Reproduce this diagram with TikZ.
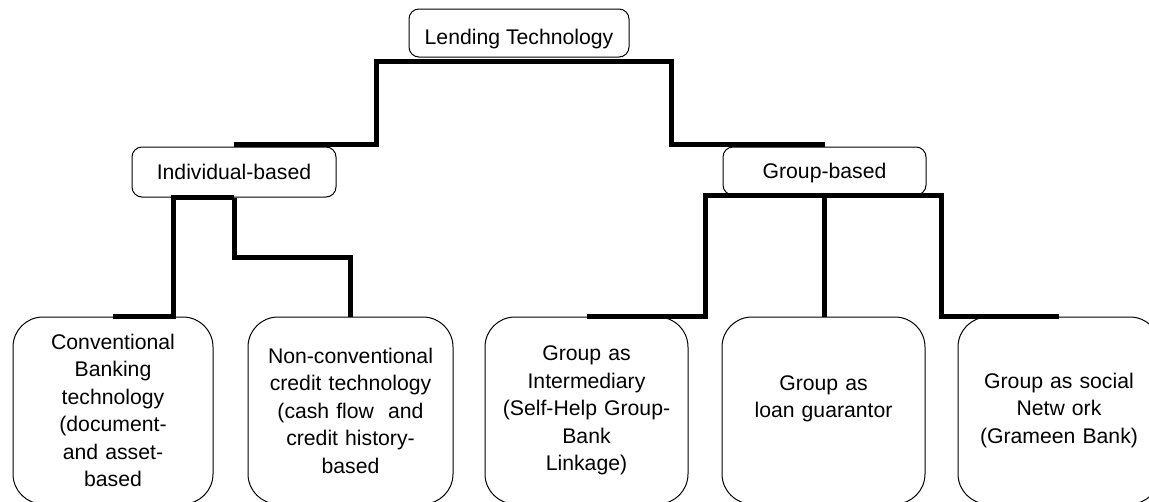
\documentclass[tikz,border=0pt]{standalone}
\usepackage{fontspec}
\setmainfont{Liberation Sans}
\usepackage{tikz}
\usetikzlibrary{calc}
\usetikzlibrary{positioning}

\begin{document}
\begin{tikzpicture}[x=1pt, y=-1pt,
        headbox/.style={draw, line width=1pt, rounded corners=10pt, inner sep=0pt,
                        text depth=0pt, font=\fontsize{21.2}{27.5}\selectfont},
        leafbox/.style={draw, line width=1pt, rounded corners=30pt, inner sep=0pt,
                        minimum height=187pt, align=center, font=\fontsize{21.2}{27.5}\selectfont},
        link/.style={line width=5pt}]
            \path[use as bounding box, clip]                                          (0,0) rectangle (1149,501);
            \node[headbox, minimum width=220pt, minimum height=48pt, text height=22pt]   (lend)    at ( 519.0, 33.0) {Lending Technology};
            \node[headbox, minimum width=204pt, minimum height=50pt, text height=15.5pt] (indiv)   at ( 234.0,172.0) {Individual-based};
            \node[headbox, minimum width=203pt, minimum height=48pt, text height=15.5pt] (group)   at ( 824.5,171.0) {Group-based};
            \node[leafbox, text width=200pt] (conv)    at ( 113.0,410.5) {Conventional\\Banking\\technology\\(document-\\and asset-\\based};
            \node[leafbox, text width=205pt] (nonconv) at ( 350.5,410.5) {Non-conventional\\credit technology\\(cash flow~ and\\credit history-\\based};
            \node[leafbox, text width=203pt] (interm)  at ( 586.5,410.5) {Group as\\Intermediary\\(Self-Help Group-\\Bank\\Linkage)};
            \node[leafbox, text width=203pt] (guar)    at ( 823.5,410.5) {Group as\\loan guarantor\\\mbox{}};
            \node[leafbox, text width=202pt] (social)  at (1059.0,410.5) {Group as social\\Netw ork\\(Grameen Bank)};
            \coordinate (lendfoot) at ([yshift=-3.5pt]lend.south);
            \draw[link] (lendfoot)    -| ($(lendfoot)!0.5!(indiv.north)$)    |- ([yshift=2pt]indiv.north);
            \draw[link] (lendfoot)    -| ($(lendfoot)!0.5!(group.north)$)    |- ([yshift=2pt]group.north);
            \draw[link] (indiv.south) -| ($(indiv.south)!0.5!(conv.north)$)    |- (conv.north);
            \draw[link] (indiv.south) |- ($(indiv.south)!0.5!(nonconv.north)$) -| (nonconv.north);
            \draw[link] (group.south) -| ($(group.south)!0.5!(interm.north)$)  |- (interm.north);
            \draw[link] (group.south) -- (group.south |- guar.north);
            \draw[link] (group.south) -| ($(group.south)!0.5!(social.north)$)  |- (social.north);
\end{tikzpicture}
\end{document}
